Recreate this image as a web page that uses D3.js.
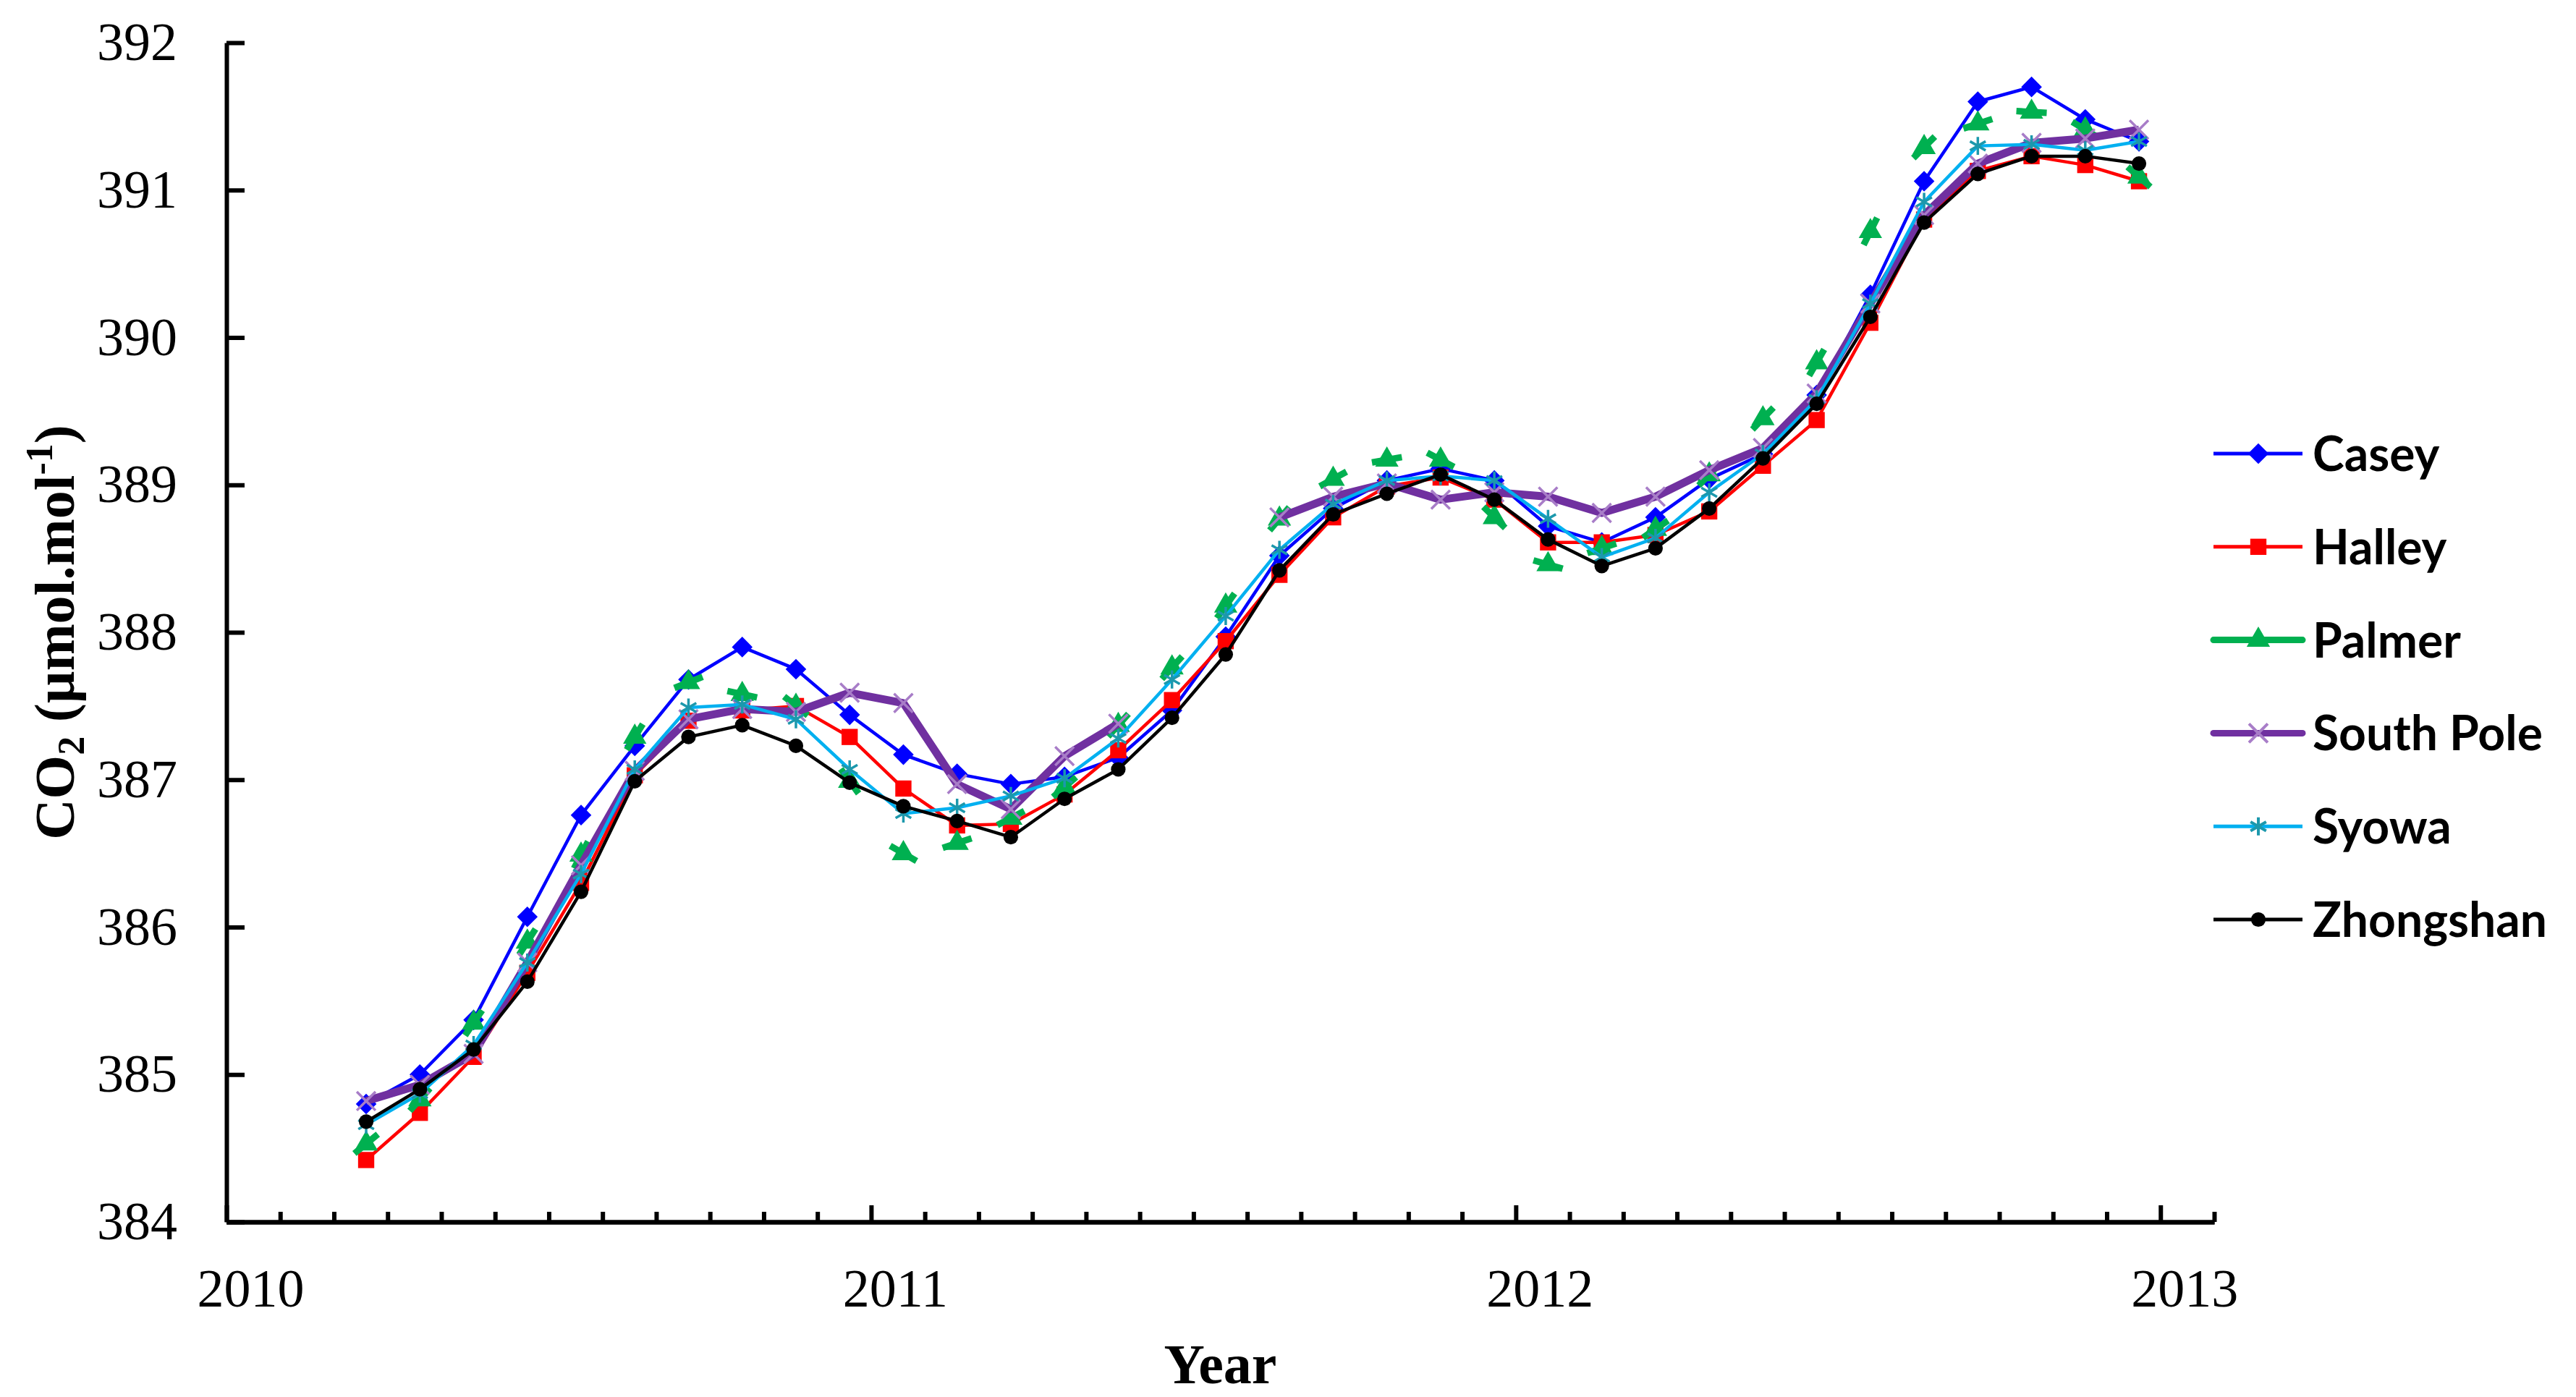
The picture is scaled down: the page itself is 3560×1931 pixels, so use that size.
<!DOCTYPE html>
<html>
<head>
<meta charset="utf-8">
<script src="https://cdnjs.cloudflare.com/ajax/libs/d3/7.8.5/d3.min.js"></script>
<style>
body { margin: 0; background: #fff; }
.axis path, .axis line { stroke: #000; stroke-width: 6; }
.axis text { font-family: "Liberation Serif", "Times New Roman", serif; font-size: 74px; fill: #000; }
.legend text { font-family: Lato, "Open Sans", sans-serif; font-weight: 700; font-size: 66px; fill: #000; }
.title { font-family: "Liberation Serif", "Times New Roman", serif; font-weight: bold; font-size: 78px; fill: #000; }
</style>
</head>
<body>
<script>

// monthly means, Mar 2010 - Dec 2012
var months = ["2010-03", "2010-04", "2010-05", "2010-06", "2010-07", "2010-08", "2010-09", "2010-10", "2010-11", "2010-12",
              "2011-01", "2011-02", "2011-03", "2011-04", "2011-05", "2011-06", "2011-07", "2011-08", "2011-09", "2011-10", "2011-11", "2011-12",
              "2012-01", "2012-02", "2012-03", "2012-04", "2012-05", "2012-06", "2012-07", "2012-08", "2012-09", "2012-10", "2012-11", "2012-12"];

var casey = [384.80, 385.00, 385.37, 386.07, 386.76, 387.23, 387.68, 387.90, 387.75, 387.44,
             387.17, 387.04, 386.97, 387.02, 387.15, 387.47, 387.97, 388.52, 388.84, 389.03, 389.11, 389.03,
             388.72, 388.61, 388.78, 389.04, 389.21, 389.61, 390.29, 391.06, 391.60, 391.70, 391.48, 391.33];
var halley = [384.42, 384.74, 385.12, 385.69, 386.30, 387.03, 387.40, 387.47, 387.50, 387.29,
              386.94, 386.69, 386.70, 386.90, 387.20, 387.54, 387.94, 388.39, 388.78, 388.99, 389.05, 388.90,
              388.61, 388.61, 388.66, 388.82, 389.13, 389.44, 390.10, 390.80, 391.13, 391.23, 391.17, 391.06];
var palmer = [384.53, 384.83, 385.35, 385.90, 386.49, 387.29, 387.66, 387.58, 387.50, 386.99,
              386.50, 386.57, 386.74, 386.95, 387.37, 387.76, 388.18, 388.77, 389.04, 389.17, 389.17, 388.78,
              388.46, 388.57, 388.70, 389.07, 389.45, 389.83, 390.72, 391.29, 391.45, 391.53, 391.41, 391.09];
var southPole = [384.82, 384.93, 385.14, 385.76, 386.42, 387.06, 387.41, 387.48, 387.46, 387.59,
                 387.52, 386.97, 386.80, 387.16, 387.38, null, null, 388.78, 388.92, 389.01, 388.90, 388.95,
                 388.92, 388.81, 388.92, 389.10, 389.25, 389.62, 390.23, 390.83, 391.18, 391.32, 391.35, 391.41];
var syowa = [384.66, 384.87, 385.20, 385.76, 386.36, 387.07, 387.49, 387.51, 387.41, 387.07,
             386.77, 386.81, 386.89, 387.01, 387.28, 387.68, 388.11, 388.56, 388.87, 389.03, 389.06, 389.03,
             388.77, 388.51, 388.64, 388.95, 389.21, 389.58, 390.23, 390.92, 391.30, 391.31, 391.27, 391.33];
var zhongshan = [384.68, 384.90, 385.17, 385.63, 386.24, 386.99, 387.29, 387.37, 387.23, 386.98,
                 386.82, 386.72, 386.61, 386.87, 387.07, 387.42, 387.85, 388.42, 388.80, 388.94, 389.07, 388.90,
                 388.63, 388.45, 388.57, 388.84, 389.18, 389.55, 390.14, 390.78, 391.11, 391.23, 391.23, 391.18];

var stationNames = ["Casey", "Halley", "Palmer", "South Pole", "Syowa", "Zhongshan"];
var stationValues = [casey, halley, palmer, southPole, syowa, zhongshan];

var yearTicks = [2010, 2011, 2012, 2013];
var co2Ticks = [384, 385, 386, 387, 388, 389, 390, 391, 392];

// look of each series (Excel-like)
var styles = {
    "Casey":      {color: "#0000ff", width: 4.5, marker: d3.symbolDiamond2, size: 520, mcolor: "#0000ff", stroke: false},
    "Halley":     {color: "#ff0000", width: 4.5, marker: d3.symbolSquare,   size: 500, mcolor: "#ff0000", stroke: false},
    "Palmer":     {color: "#00b050", width: 9,   marker: d3.symbolTriangle, size: 450, mcolor: "#00b050", stroke: false},
    "South Pole": {color: "#7030a0", width: 11,  marker: d3.symbolX,        size: 440, mcolor: "#a87dc8", stroke: true},
    "Syowa":      {color: "#00b0f0", width: 4.5, marker: d3.symbolAsterisk, size: 440, mcolor: "#1c98ac", stroke: true},
    "Zhongshan":  {color: "#000000", width: 4.5, marker: d3.symbolCircle,   size: 320, mcolor: "#000000", stroke: false}
};

var margin = {top: 59, right: 500, bottom: 242, left: 313},
    width = 3560 - margin.left - margin.right,
    height = 1931 - margin.top - margin.bottom;

var svg = d3.select("body").append("svg")
    .attr("width", width + margin.left + margin.right)
    .attr("height", height + margin.top + margin.bottom)
    .append("g")
    .attr("transform", "translate(" + margin.left + "," + margin.top + ")");

// x axis runs one month past 2013 like the original
var xScale = d3.scaleLinear().domain([2010, 2013 + 1 / 12]).range([0, width]);
var yScale = d3.scaleLinear().domain([384, 392]).range([height, 0]);

// month string -> decimal year (sample taken around the 19th)
function monthToYear(m) {
    var parts = m.split("-");
    return +parts[0] + (+parts[1] - 1 + 0.6) / 12;
}

var data = stationNames.map(function(name, k) {
    return {
        name: name,
        points: months.map(function(m, i) { return [monthToYear(m), stationValues[k][i]]; })
    };
});

// axes
var monthTicks = d3.range(1, 38).filter(function(k) { return k % 12 != 0; })
    .map(function(k) { return 2010 + k / 12; });

svg.append("g")
    .attr("class", "axis axis--minor")
    .attr("transform", "translate(0," + height + ")")
    .call(d3.axisBottom(xScale).tickValues(monthTicks).tickSizeInner(-14).tickSizeOuter(0).tickFormat(""));

var xAxis = svg.append("g")
    .attr("class", "axis axis--x")
    .attr("transform", "translate(0," + height + ")")
    .call(d3.axisBottom(xScale).tickValues(yearTicks).tickSizeInner(-23).tickSizeOuter(0)
        .tickPadding(64).tickFormat(d3.format("d")));
xAxis.selectAll("text").attr("dx", 33);

svg.append("g")
    .attr("class", "axis axis--y")
    .call(d3.axisLeft(yScale).tickValues(co2Ticks).tickSizeInner(-25).tickSizeOuter(0).tickPadding(68));

// lines + markers, series by series
var lineGen = d3.line()
    .defined(function(d) { return d[1] != null; })
    .x(function(d) { return xScale(d[0]); })
    .y(function(d) { return yScale(d[1]); });

data.forEach(function(s) {
    var st = styles[s.name];
    var g = svg.append("g").attr("class", "series");
    var pts = s.points.filter(function(d) { return d[1] != null; });

    if (s.name == "Palmer") {
        // Palmer only shows short dashes through its markers
        g.selectAll(".dash")
            .data(pts)
            .enter().append("line")
            .attr("class", "dash")
            .each(function(d, i) {
                var a = pts[Math.max(i - 1, 0)], b = pts[Math.min(i + 1, pts.length - 1)];
                var dx = xScale(b[0]) - xScale(a[0]), dy = yScale(b[1]) - yScale(a[1]);
                var len = Math.sqrt(dx * dx + dy * dy);
                var ux = dx / len * 21, uy = dy / len * 21;
                d3.select(this)
                    .attr("x1", xScale(d[0]) - ux).attr("y1", yScale(d[1]) - uy)
                    .attr("x2", xScale(d[0]) + ux).attr("y2", yScale(d[1]) + uy);
            })
            .attr("stroke", st.color)
            .attr("stroke-width", st.width);
    } else {
        g.append("path")
            .attr("d", lineGen(s.points))
            .attr("fill", "none")
            .attr("stroke", st.color)
            .attr("stroke-width", st.width)
            .attr("stroke-linejoin", "round");
    }

    g.selectAll(".marker")
        .data(pts)
        .enter().append("path")
        .attr("class", "marker")
        .attr("transform", function(d) { return "translate(" + xScale(d[0]) + "," + yScale(d[1]) + ")"; })
        .attr("d", d3.symbol().type(st.marker).size(st.size))
        .attr("fill", st.stroke ? "none" : st.mcolor)
        .attr("stroke", st.stroke ? st.mcolor : "none")
        .attr("stroke-width", 3.5);
});

// legend
var legend = svg.append("g")
    .attr("class", "legend")
    .attr("transform", "translate(" + (width - 1) + ",568)");

stationNames.forEach(function(name, i) {
    var st = styles[name];
    var row = legend.append("g").attr("transform", "translate(0," + (i * 128.8) + ")");
    row.append("line")
        .attr("x1", 0).attr("x2", 123)
        .attr("stroke", st.color)
        .attr("stroke-width", name == "Palmer" || name == "South Pole" ? 9 : 5)
        .attr("stroke-linecap", name == "Palmer" || name == "South Pole" ? "round" : "butt");
    row.append("path")
        .attr("transform", "translate(62,0)")
        .attr("d", d3.symbol().type(st.marker).size(st.size))
        .attr("fill", st.stroke ? "none" : st.mcolor)
        .attr("stroke", st.stroke ? st.mcolor : "none")
        .attr("stroke-width", 4);
    row.append("text")
        .attr("x", 137)
        .attr("y", 24)
        .text(name);
});

// axis titles
svg.append("text")
    .attr("class", "title")
    .attr("x", (xScale(2010) + xScale(2013 + 1 / 12)) / 2)
    .attr("y", height + 223)
    .style("text-anchor", "middle")
    .text("Year");

var yTitle = svg.append("text")
    .attr("class", "title")
    .attr("transform", "translate(" + (102 - margin.left) + "," + (height / 2) + ") rotate(-90)")
    .style("text-anchor", "middle");
yTitle.append("tspan").text("CO");
yTitle.append("tspan").attr("dy", 14).style("font-size", "52px").text("2");
yTitle.append("tspan").attr("dy", -14).text(" (\u00b5mol.mol");
yTitle.append("tspan").attr("dy", -30).style("font-size", "52px").text("-1");
yTitle.append("tspan").attr("dy", 30).text(")");

</script>
</body>
</html>
